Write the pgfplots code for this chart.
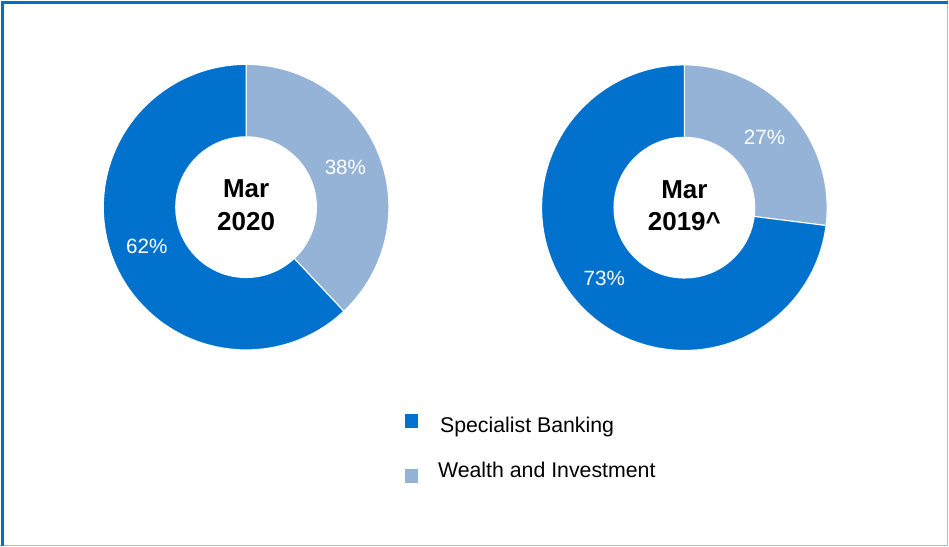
\documentclass[border=0pt]{standalone}
\usepackage{pgfplots}
\pgfplotsset{compat=1.18}
\usepackage{pgfplotstable}
\usepackage{fontspec}
\setmainfont{Liberation Sans}

\definecolor{sbblue}{RGB}{0,114,206}
\definecolor{wiblue}{RGB}{149,179,215}
\definecolor{frameblue}{RGB}{0,112,192}
\definecolor{framelight}{RGB}{157,195,230}

% share of each segment, per period (percent)
\pgfplotstableread{
period  sb  wi
2020    62  38
2019    73  27
}\shares

\pgfplotstablegetelem{0}{sb}\of\shares \let\sbA\pgfplotsretval
\pgfplotstablegetelem{0}{wi}\of\shares \let\wiA\pgfplotsretval
\pgfplotstablegetelem{1}{sb}\of\shares \let\sbB\pgfplotsretval
\pgfplotstablegetelem{1}{wi}\of\shares \let\wiB\pgfplotsretval

% outer / inner radius, 1px = 0.75pt
\def\rout{107.25pt}
\def\rin{53.25pt}
\def\rlab{80.25pt}

% #1,#2 centre, #3 wealth share, #4 specialist share, #5 centre text
\newcommand\donut[5]{%
  \filldraw[wiblue, draw=white, line width=0.8pt] (axis cs:#1,#2) -- ++(90:\rout)
    arc[start angle=90, end angle={90-3.6*#3}, radius=\rout] -- cycle;
  \filldraw[sbblue, draw=white, line width=0.8pt] (axis cs:#1,#2) -- ++({90-3.6*#3}:\rout)
    arc[start angle={90-3.6*#3}, end angle=-270, radius=\rout] -- cycle;
  \fill[white] (axis cs:#1,#2) circle[radius=\rin];
  \node[white, font=\fontsize{15.5}{18}\selectfont] at ($(axis cs:#1,#2)+({90-1.8*#3}:\rlab)$) {#3\%};
  \node[white, font=\fontsize{15.5}{18}\selectfont] at ($(axis cs:#1,#2)+({90-3.6*#3-1.8*#4}:\rlab)$) {#4\%};
  \node[align=center, font=\fontsize{19.5}{24.5}\selectfont\bfseries] at (axis cs:#1,#2+2) {#5};
}

\usetikzlibrary{calc}

\begin{document}
\begin{tikzpicture}
\begin{axis}[x=0.75pt, y=0.75pt, xmin=0, xmax=949, ymin=0, ymax=546,
             scale only axis, hide axis, clip=false]
  \path (axis cs:0,0) (axis cs:949,546);
  % frame
  \draw[framelight, line width=0.75pt] (axis cs:0,0.5) -- (axis cs:948.5,0.5) -- (axis cs:948.5,546);
  \draw[frameblue, line width=1.6pt] (axis cs:2,0) -- (axis cs:2,544) -- (axis cs:949,544);

  \donut{246}{339}{\wiA}{\sbA}{Mar\\2020}
  \donut{685}{338.5}{\wiB}{\sbB}{Mar\\2019\^{}}

  % legend
  \fill[sbblue] (axis cs:405,118) rectangle (axis cs:418,132);
  \fill[wiblue] (axis cs:405,63) rectangle (axis cs:418,77);
  \node[anchor=base west, inner sep=0pt, font=\fontsize{16}{19}\selectfont] at (axis cs:440,113) {Specialist Banking};
  \node[anchor=base west, inner sep=0pt, font=\fontsize{16}{19}\selectfont] at (axis cs:438,68) {Wealth and Investment};
\end{axis}
\end{tikzpicture}
\end{document}
